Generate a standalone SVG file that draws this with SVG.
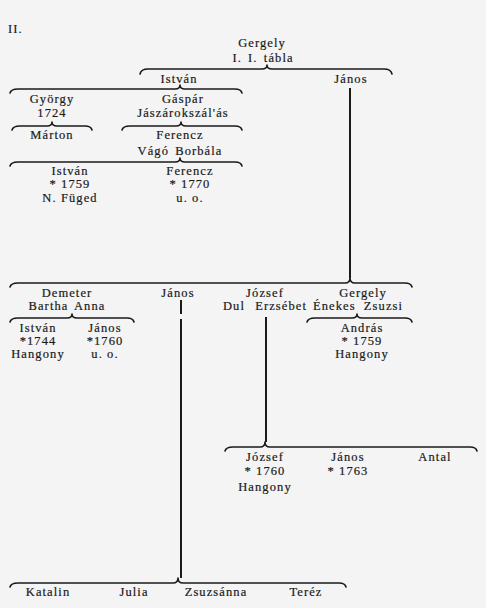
<svg xmlns="http://www.w3.org/2000/svg" width="486" height="608" viewBox="0 0 486 608">
<style>
text{font-family:"Liberation Serif","DejaVu Serif",serif;font-size:12.5px;fill:#1a1a1a;stroke:#1a1a1a;stroke-width:0.2;text-anchor:middle;letter-spacing:1.1px}
.b{fill:none;stroke:#1a1a1a;stroke-width:1.6;stroke-linecap:round;stroke-linejoin:round}
.v{stroke:#1a1a1a;stroke-width:2}
</style>
<rect width="486" height="608" fill="#f4f4f4"/>
<text x="8" y="33" style="text-anchor:start">II.</text>
<g id="connectors">
<path class="b" d="M140,74 Q141,69 148,69 L262,69 Q267,69 267,65 Q267,69 272,69 L384,69 Q391,69 392,74"/>
<path class="b" d="M10,93 Q11,89 18,89 L175,89 Q180,89 180,85 Q180,89 185,89 L235,89 Q241,89 242,93"/>
<path class="b" d="M12,130 Q13,126 20,126 L47,126 Q52,126 52,122 Q52,126 57,126 L85,126 Q91,126 92,130"/>
<path class="b" d="M122,130 Q123,126 130,126 L176,126 Q181,126 181,122 Q181,126 186,126 L235,126 Q241,126 242,130"/>
<path class="b" d="M10,166 Q11,162 18,162 L175,162 Q180,162 180,158 Q180,162 185,162 L235,162 Q241,162 242,166"/>
<line class="v" x1="350" y1="88" x2="350" y2="278"/>
<path class="b" d="M10,287 Q11,283 18,283 L345,283 Q350,283 350,278 Q350,283 355,283 L405,283 Q411,283 412,287"/>
<path class="b" d="M10,322 Q11,318 18,318 L67,318 Q72,318 72,314 Q72,318 77,318 L127,318 Q133,318 134,322"/>
<path class="b" d="M307,322 Q308,318 315,318 L352,318 Q357,318 357,314 Q357,318 362,318 L405,318 Q411,318 412,322"/>
<line class="v" x1="181" y1="300" x2="181" y2="314"/>
<line class="v" x1="181" y1="319" x2="181" y2="578"/>
<line class="v" x1="266" y1="317" x2="266" y2="442"/>
<path class="b" d="M225,451 Q226,447 233,447 L260,447 Q265,447 265,442 Q265,447 270,447 L470,447 Q476,447 477,451"/>
<path class="b" d="M10,587 Q11,583 18,583 L173,583 Q178,583 178,578 Q178,583 183,583 L339,583 Q345,583 346,587"/>
</g>
<g id="gergely1"><text x="262" y="47">Gergely</text><text x="263" y="62" style="word-spacing:2px">I. I. tábla</text></g>
<g id="istvan1"><text x="179" y="83">István</text></g>
<g id="janos1"><text x="351" y="83">János</text></g>
<g id="gyorgy"><text x="52" y="103">György</text><text x="52" y="117">1724</text></g>
<g id="gaspar"><text x="183" y="103">Gáspár</text><text x="183" y="117">Jászárokszál'ás</text></g>
<g id="marton"><text x="52" y="139">Márton</text></g>
<g id="ferencz1"><text x="180" y="139">Ferencz</text><text x="180" y="155" style="word-spacing:2px">Vágó Borbála</text></g>
<g id="istvan2"><text x="70" y="175">István</text><text x="70" y="188">* 1759</text><text x="70" y="202">N. Füged</text></g>
<g id="ferencz2"><text x="190" y="175">Ferencz</text><text x="190" y="188">* 1770</text><text x="190" y="202">u. o.</text></g>
<g id="demeter"><text x="67" y="297">Demeter</text><text x="67" y="310" style="word-spacing:2px">Bartha Anna</text></g>
<g id="janos2"><text x="178" y="297">János</text></g>
<g id="jozsef1"><text x="265" y="297">József</text><text x="265" y="310" style="word-spacing:6px">Dul Erzsébet</text></g>
<g id="gergely2"><text x="363" y="297">Gergely</text><text x="358" y="310" style="word-spacing:4px">Énekes Zsuzsi</text></g>
<g id="istvan3"><text x="38" y="332">István</text><text x="38" y="345">*1744</text><text x="38" y="358">Hangony</text></g>
<g id="janos3"><text x="105" y="332">János</text><text x="105" y="345">*1760</text><text x="105" y="358">u. o.</text></g>
<g id="andras"><text x="362" y="332">András</text><text x="362" y="345">* 1759</text><text x="362" y="358">Hangony</text></g>
<g id="jozsef2"><text x="265" y="461">József</text><text x="265" y="475">* 1760</text><text x="265" y="491">Hangony</text></g>
<g id="janos4"><text x="348" y="461">János</text><text x="348" y="475">* 1763</text></g>
<g id="antal"><text x="435" y="461">Antal</text></g>
<g id="katalin"><text x="48" y="596">Katalin</text></g>
<g id="julia"><text x="134" y="596">Julia</text></g>
<g id="zsuzsanna"><text x="216" y="596">Zsuzsánna</text></g>
<g id="terez"><text x="306" y="596">Teréz</text></g>
</svg>
